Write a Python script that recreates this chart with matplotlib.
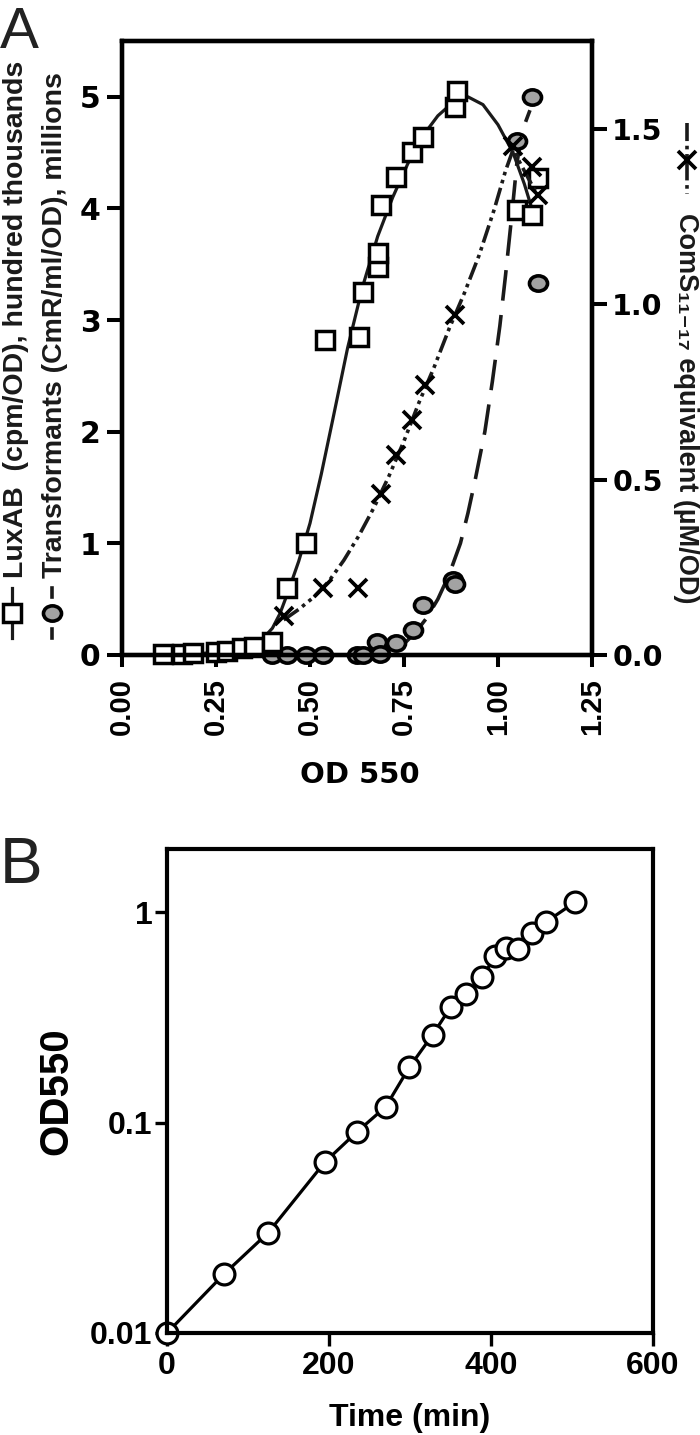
import matplotlib
matplotlib.use('Agg')
import matplotlib.pyplot as plt
from matplotlib.lines import Line2D
from matplotlib.path import Path
from matplotlib.transforms import Affine2D

# ---------------- Panel A data ----------------
lux_x = [0.11, 0.16, 0.19, 0.25, 0.28, 0.32, 0.35, 0.40, 0.44, 0.49, 0.54, 0.63, 0.64,
         0.68, 0.68, 0.69, 0.73, 0.77, 0.80, 0.886, 0.89, 1.05, 1.09, 1.106]
lux_y = [0.01, 0.01, 0.02, 0.03, 0.04, 0.06, 0.07, 0.12, 0.60, 1.00, 2.82, 2.85, 3.25,
         3.48, 3.60, 4.03, 4.28, 4.51, 4.64, 4.91, 5.05, 3.99, 3.94, 4.27]

lux_fit_x = [0.10, 0.20, 0.30, 0.34, 0.37, 0.40, 0.42, 0.44, 0.47, 0.50, 0.53, 0.56, 0.60,
             0.64, 0.68, 0.72, 0.76, 0.80, 0.84, 0.88, 0.92, 0.96, 1.00, 1.04, 1.07, 1.09]
lux_fit_y = [0.00, 0.01, 0.04, 0.07, 0.13, 0.24, 0.37, 0.55, 0.84, 1.18, 1.62, 2.10, 2.75,
             3.30, 3.75, 4.10, 4.40, 4.65, 4.83, 4.95, 5.00, 4.93, 4.75, 4.50, 4.22, 4.00]

trans_x = [0.40, 0.44, 0.49, 0.535, 0.625, 0.64, 0.678, 0.686, 0.73, 0.775, 0.80, 0.88,
           0.886, 1.05, 1.09, 1.106]
trans_y = [0.00, 0.00, 0.00, 0.00, 0.00, 0.00, 0.12, 0.01, 0.11, 0.22, 0.45, 0.67,
           0.64, 4.60, 5.00, 3.33]

trans_fit_x = [0.40, 0.50, 0.60, 0.65, 0.70, 0.75, 0.78, 0.81, 0.84, 0.87, 0.90, 0.92,
               0.94, 0.965, 0.985, 1.005, 1.02, 1.037, 1.05, 1.065, 1.085]
trans_fit_y = [0.00, 0.00, 0.00, 0.01, 0.03, 0.10, 0.20, 0.33, 0.50, 0.72, 1.00, 1.27,
               1.58, 2.00, 2.45, 2.95, 3.40, 3.95, 4.40, 4.70, 4.88]

coms_x = [0.43, 0.535, 0.628, 0.69, 0.73, 0.77, 0.806, 0.886, 1.04, 1.09, 1.106]
coms_y = [0.11, 0.19, 0.19, 0.46, 0.57, 0.67, 0.77, 0.97, 1.45, 1.39, 1.31]

coms_fit_x = [0.43, 0.47, 0.51, 0.55, 0.59, 0.63, 0.67, 0.71, 0.75, 0.79, 0.83, 0.87,
              0.91, 0.95, 0.99, 1.02, 1.04, 1.07, 1.10]
coms_fit_y = [0.10, 0.13, 0.165, 0.21, 0.27, 0.34, 0.42, 0.51, 0.61, 0.72, 0.82, 0.93,
              1.03, 1.14, 1.27, 1.38, 1.44, 1.38, 1.32]

a_xticks = [0.00, 0.25, 0.50, 0.75, 1.00, 1.25]
a_xticklabels = ['0.00', '0.25', '0.50', '0.75', '1.00', '1.25']
a_yticks = [0, 1, 2, 3, 4, 5]
a_yticklabels = ['0', '1', '2', '3', '4', '5']
a_y2ticks = [0.0, 0.5, 1.0, 1.5]
a_y2ticklabels = ['0.0', '0.5', '1.0', '1.5']

# ---------------- Panel B data ----------------
time_min = [0, 70, 125, 195, 234, 270, 299, 328, 350, 369, 389, 405, 418, 433, 450, 468, 504]
od550 = [0.010, 0.019, 0.030, 0.065, 0.090, 0.119, 0.183, 0.262, 0.353, 0.407, 0.49,
         0.617, 0.68, 0.67, 0.80, 0.90, 1.12]
b_xticks = [0, 200, 400, 600]
b_xticklabels = ['0', '200', '400', '600']
b_yticks = [0.01, 0.1, 1]
b_yticklabels = ['0.01', '0.1', '1']

# ---------------- figure ----------------
W, H = 700, 1435
fig = plt.figure(figsize=(W / 100, H / 100), dpi=100)


def fx(px):
    return px / W


def fy(py):
    return 1 - py / H


WIDE = 'DejaVu Sans'
ARIAL = 'Liberation Sans'
GRAY = '#a3a3a3'
DASHED = (0, (8.5, 4.0))
DASHDOTDOT = (0, (5.0, 1.3, 1.0, 1.3, 1.0, 1.3))

ellipse = Path.unit_circle().transformed(Affine2D().scale(1.18, 1.0))

axA = fig.add_axes([fx(122), fy(655), (592 - 122) / W, (655 - 41) / H])
axA2 = axA.twinx()
axA.set_xlim(0, 1.25)
axA.set_ylim(0, 5.5)
axA2.set_ylim(0, 1.75)

# curves
axA.plot(lux_fit_x, lux_fit_y, color='#1a1a1a', lw=2.3, solid_joinstyle='round',
         solid_capstyle='round', zorder=2)
axA.plot(trans_fit_x, trans_fit_y, color='#1a1a1a', lw=2.6, linestyle=DASHED, zorder=2)
axA2.plot(coms_fit_x, coms_fit_y, color='#1a1a1a', lw=2.6, linestyle=DASHDOTDOT, zorder=2)

# markers
axA.plot(trans_x, trans_y, linestyle='none', marker=ellipse, ms=13, mfc=GRAY,
         mec='black', mew=2.6, clip_on=False, zorder=3)
axA.plot(lux_x, lux_y, linestyle='none', marker='s', ms=12.5, mfc='white',
         mec='black', mew=2.5, clip_on=False, zorder=3)
axA2.plot(coms_x, coms_y, linestyle='none', marker='x', ms=13.5, mec='black',
          mew=2.7, clip_on=False, zorder=3)

for ax in (axA, axA2):
    for s in ax.spines.values():
        s.set_linewidth(3.1)
        s.set_zorder(4)

axA.set_xticks(a_xticks, labels=a_xticklabels, rotation=90, fontfamily=ARIAL,
               fontweight='bold', fontsize=21)
axA.set_yticks(a_yticks, labels=a_yticklabels, fontfamily=WIDE, fontweight='bold',
               fontsize=21.5)
axA2.set_yticks(a_y2ticks, labels=a_y2ticklabels, fontfamily=WIDE, fontweight='bold',
                fontsize=20.5)
axA.tick_params(axis='x', direction='out', length=8.5, width=2.9, pad=8)
axA.tick_params(axis='y', direction='out', length=10.5, width=2.9, pad=5)
axA2.tick_params(axis='y', direction='out', length=10.5, width=2.9, pad=4)

fig.text(fx(360), fy(775), 'OD 550', ha='center', va='center', fontfamily=WIDE,
         fontweight='bold', fontsize=21)

# left axis labels with their legend keys
fig.text(fx(23), fy(578), 'LuxAB  (cpm/OD), hundred thousands', rotation=90,
         rotation_mode='anchor', ha='left', va='baseline', fontfamily=ARIAL,
         fontweight='bold', fontsize=20.5, color='#1a1a1a')
fig.text(fx(62), fy(578), 'Transformants (CmR/ml/OD), millions', rotation=90,
         rotation_mode='anchor', ha='left', va='baseline', fontfamily=ARIAL,
         fontweight='bold', fontsize=20.5, color='#1a1a1a')

fig.add_artist(Line2D([fx(12), fx(12)], [fy(588), fy(638)], transform=fig.transFigure,
                      color='#1a1a1a', lw=2.3))
fig.add_artist(Line2D([fx(12)], [fy(613)], transform=fig.transFigure, marker='s', ms=12.5,
                      mfc='white', mec='black', mew=2.5))
fig.add_artist(Line2D([fx(52), fx(52)], [fy(588), fy(597)], transform=fig.transFigure,
                      color='#1a1a1a', lw=2.6))
fig.add_artist(Line2D([fx(52), fx(52)], [fy(629), fy(638)], transform=fig.transFigure,
                      color='#1a1a1a', lw=2.6))
fig.add_artist(Line2D([fx(52)], [fy(613)], transform=fig.transFigure, marker=ellipse,
                      ms=13, mfc=GRAY, mec='black', mew=2.6))

# right axis label with legend key
fig.add_artist(Line2D([fx(687), fx(687)], [fy(123), fy(194)], transform=fig.transFigure,
                      color='#1a1a1a', lw=2.6, linestyle=DASHDOTDOT))
fig.add_artist(Line2D([fx(687)], [fy(160)], transform=fig.transFigure, marker='x',
                      ms=13.5, mec='black', mew=2.7))
fig.text(fx(679), fy(213), 'ComS\u2081\u2081\u208b\u2081\u2087 equivalent (\u00b5M/OD)',
         rotation=270, rotation_mode='anchor', ha='left', va='baseline',
         fontfamily=[ARIAL, 'DejaVu Sans'], fontweight='bold', fontsize=19.5,
         color='#1a1a1a')

fig.text(fx(0), fy(48), 'A', ha='left', va='baseline', fontfamily=ARIAL, fontsize=42,
         color='#222222')

# ---------------- Panel B ----------------
axB = fig.add_axes([fx(167), fy(1333), (653 - 167) / W, (1333 - 849) / H])
axB.set_yscale('log')
axB.set_xlim(0, 600)
axB.set_ylim(0.01, 2)
axB.plot(time_min, od550, color='black', lw=2.3, marker='o', ms=15, mfc='white',
         mec='black', mew=2.3, clip_on=False, zorder=2)
for s in axB.spines.values():
    s.set_linewidth(3.0)
    s.set_zorder(4)
axB.set_xticks(b_xticks, labels=b_xticklabels, fontfamily=ARIAL, fontweight='bold',
               fontsize=23)
axB.set_yticks(b_yticks, labels=b_yticklabels, fontfamily=ARIAL, fontweight='bold',
               fontsize=23)
axB.minorticks_off()
axB.tick_params(axis='x', direction='out', length=9, width=2.4, pad=4)
axB.tick_params(axis='y', direction='out', length=8.5, width=2.4, pad=2)

fig.text(fx(67), fy(1091), 'OD550', rotation=90, rotation_mode='anchor', ha='center',
         va='baseline', fontfamily=ARIAL, fontweight='bold', fontsize=29)
fig.text(fx(410), fy(1426), 'Time (min)', ha='center', va='baseline', fontfamily=ARIAL,
         fontweight='bold', fontsize=23)
fig.text(fx(0), fy(883), 'B', ha='left', va='baseline', fontfamily=ARIAL, fontsize=46,
         color='#222222')

fig.savefig('out.png', dpi=100)
